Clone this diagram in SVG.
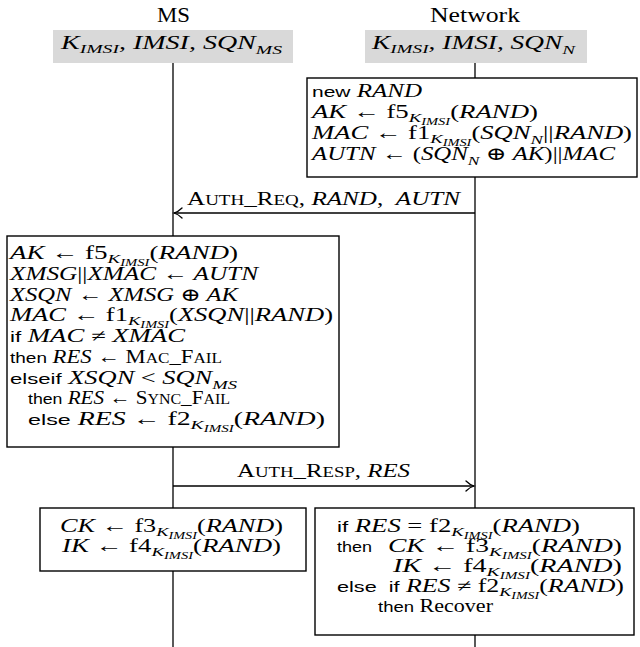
<svg xmlns="http://www.w3.org/2000/svg" width="640" height="647" viewBox="0 0 640 647">
<style>
text { font-family: "Liberation Serif", "DejaVu Serif", serif; font-size: 18.5px; fill: #000; }
.i { font-style: italic; }
.up { font-style: normal; }
.sf { font-family: "Liberation Sans", "DejaVu Sans", sans-serif; font-style: normal; font-size: 15.5px; }
.sc { font-style: normal; font-size: 14px; }
.sb { font-size: 13px; }
.ss { font-size: 10px; }
.hd { font-size: 22px; }
.box { fill: #fff; stroke: #000; stroke-width: 1.4; }
.gray { fill: #d9d9d9; stroke: none; }
.ll { stroke: #000; stroke-width: 1.3; fill: none; }
.msg { stroke: #000; stroke-width: 1.4; fill: none; marker-end: url(#ah); }
</style>
<defs>
<marker id="ah" viewBox="-10 -6 12 12" refX="0" refY="0" markerWidth="12" markerHeight="12" markerUnits="userSpaceOnUse" orient="auto"><path d="M-8,-5 C-5,-2 -2,-0.6 0,0 C-2,0.6 -5,2 -8,5" fill="none" stroke="#000" stroke-width="1.3" stroke-linecap="round"/></marker>
</defs>

<g id="connectors">
<line class="ll" x1="173" y1="63" x2="173" y2="236"/>
<line class="ll" x1="173" y1="447" x2="173" y2="508"/>
<line class="ll" x1="173" y1="571" x2="173" y2="647"/>
<line class="ll" x1="475" y1="63" x2="475" y2="78"/>
<line class="ll" x1="475" y1="177" x2="475" y2="508"/>
<line class="ll" x1="475" y1="635" x2="475" y2="647"/>
<line class="msg" x1="475" y1="213" x2="174" y2="213"/>
<text x="187" y="205" textLength="273" lengthAdjust="spacingAndGlyphs" xml:space="preserve">A<tspan class="sc">UTH</tspan>_R<tspan class="sc">EQ</tspan>, <tspan class="i">RAND</tspan>,  <tspan class="i">AUTN</tspan></text>
<line class="msg" x1="173" y1="486" x2="474" y2="486"/>
<text x="237" y="477" textLength="173" lengthAdjust="spacingAndGlyphs">A<tspan class="sc">UTH</tspan>_R<tspan class="sc">ESP</tspan>, <tspan class="i">RES</tspan></text>
</g>

<g id="ms-header">
<text class="hd" x="157" y="22" textLength="33" lengthAdjust="spacingAndGlyphs">MS</text>
<rect class="gray" x="53" y="30" width="240" height="33"/>
<text class="i" x="61" y="49" textLength="221" lengthAdjust="spacingAndGlyphs">K<tspan class="sb" dy="4">IMSI</tspan><tspan dy="-4">, IMSI, SQN</tspan><tspan class="sb" dy="5">MS</tspan></text>
</g>

<g id="network-header">
<text class="hd" x="430" y="22" textLength="90" lengthAdjust="spacingAndGlyphs">Network</text>
<rect class="gray" x="365" y="30" width="222" height="33"/>
<text class="i" x="372" y="49" textLength="203" lengthAdjust="spacingAndGlyphs">K<tspan class="sb" dy="4">IMSI</tspan><tspan dy="-4">, IMSI, SQN</tspan><tspan class="sb" dy="5">N</tspan></text>
</g>

<g id="network-compute">
<rect class="box" x="307" y="78" width="330" height="99"/>
<text class="i" x="312" y="97" textLength="110" lengthAdjust="spacingAndGlyphs"><tspan class="sf">new</tspan> RAND</text>
<text class="i" x="312" y="118" textLength="226" lengthAdjust="spacingAndGlyphs">AK <tspan class="up">← f5</tspan><tspan class="sb" dy="4">K</tspan><tspan class="ss" dy="2.5">IMSI</tspan><tspan class="up" dy="-6.5">(</tspan>RAND<tspan class="up">)</tspan></text>
<text class="i" x="312" y="139" textLength="320" lengthAdjust="spacingAndGlyphs">MAC <tspan class="up">← f1</tspan><tspan class="sb" dy="4">K</tspan><tspan class="ss" dy="2.5">IMSI</tspan><tspan class="up" dy="-6.5">(</tspan>SQN<tspan class="sb" dy="5">N</tspan><tspan class="up" dy="-5">||</tspan>RAND<tspan class="up">)</tspan></text>
<text class="i" x="312" y="160" textLength="303" lengthAdjust="spacingAndGlyphs">AUTN <tspan class="up">← (</tspan>SQN<tspan class="sb" dy="5">N</tspan><tspan class="up" dy="-5"> ⊕ </tspan>AK<tspan class="up">)||</tspan>MAC</text>
</g>

<g id="ms-verify">
<rect class="box" x="7" y="236" width="332" height="211"/>
<text class="i" x="10" y="259" textLength="228" lengthAdjust="spacingAndGlyphs">AK <tspan class="up">← f5</tspan><tspan class="sb" dy="4">K</tspan><tspan class="ss" dy="2.5">IMSI</tspan><tspan class="up" dy="-6.5">(</tspan>RAND<tspan class="up">)</tspan></text>
<text class="i" x="10" y="280" textLength="248" lengthAdjust="spacingAndGlyphs">XMSG<tspan class="up">||</tspan>XMAC <tspan class="up">←</tspan> AUTN</text>
<text class="i" x="10" y="300.5" textLength="228" lengthAdjust="spacingAndGlyphs">XSQN <tspan class="up">←</tspan> XMSG <tspan class="up">⊕</tspan> AK</text>
<text class="i" x="10" y="321" textLength="323" lengthAdjust="spacingAndGlyphs">MAC <tspan class="up">← f1</tspan><tspan class="sb" dy="4">K</tspan><tspan class="ss" dy="2.5">IMSI</tspan><tspan class="up" dy="-6.5">(</tspan>XSQN<tspan class="up">||</tspan>RAND<tspan class="up">)</tspan></text>
<text class="i" x="10" y="342" textLength="175" lengthAdjust="spacingAndGlyphs"><tspan class="sf">if</tspan> MAC <tspan class="up">≠</tspan> XMAC</text>
<text class="i" x="10" y="363" textLength="212" lengthAdjust="spacingAndGlyphs"><tspan class="sf">then</tspan> RES <tspan class="up">←</tspan> <tspan class="up">M</tspan><tspan class="sc">AC</tspan><tspan class="up">_F</tspan><tspan class="sc">AIL</tspan></text>
<text class="i" x="10" y="384" textLength="227" lengthAdjust="spacingAndGlyphs"><tspan class="sf">elseif</tspan> XSQN <tspan class="up">&lt;</tspan> SQN<tspan class="sb" dy="5">MS</tspan></text>
<text class="i" x="28" y="404" textLength="202" lengthAdjust="spacingAndGlyphs"><tspan class="sf">then</tspan> RES <tspan class="up">←</tspan> <tspan class="up">S</tspan><tspan class="sc">YNC</tspan><tspan class="up">_F</tspan><tspan class="sc">AIL</tspan></text>
<text class="i" x="28" y="425" textLength="297" lengthAdjust="spacingAndGlyphs"><tspan class="sf">else</tspan> RES <tspan class="up">← f2</tspan><tspan class="sb" dy="4">K</tspan><tspan class="ss" dy="2.5">IMSI</tspan><tspan class="up" dy="-6.5">(</tspan>RAND<tspan class="up">)</tspan></text>
</g>

<g id="ms-keys">
<rect class="box" x="40" y="508" width="266" height="63"/>
<text class="i" x="60" y="532" textLength="223" lengthAdjust="spacingAndGlyphs">CK <tspan class="up">← f3</tspan><tspan class="sb" dy="4">K</tspan><tspan class="ss" dy="2.5">IMSI</tspan><tspan class="up" dy="-6.5">(</tspan>RAND<tspan class="up">)</tspan></text>
<text class="i" x="62" y="552" textLength="219" lengthAdjust="spacingAndGlyphs">IK <tspan class="up">← f4</tspan><tspan class="sb" dy="4">K</tspan><tspan class="ss" dy="2.5">IMSI</tspan><tspan class="up" dy="-6.5">(</tspan>RAND<tspan class="up">)</tspan></text>
</g>

<g id="network-check">
<rect class="box" x="315" y="508" width="319" height="127"/>
<text class="i" x="337" y="532" textLength="243" lengthAdjust="spacingAndGlyphs"><tspan class="sf">if</tspan> RES <tspan class="up">= f2</tspan><tspan class="sb" dy="4">K</tspan><tspan class="ss" dy="2.5">IMSI</tspan><tspan class="up" dy="-6.5">(</tspan>RAND<tspan class="up">)</tspan></text>
<text class="sf" x="337" y="552" textLength="35" lengthAdjust="spacingAndGlyphs">then</text>
<text class="i" x="388" y="552" textLength="234" lengthAdjust="spacingAndGlyphs">CK <tspan class="up">← f3</tspan><tspan class="sb" dy="4">K</tspan><tspan class="ss" dy="2.5">IMSI</tspan><tspan class="up" dy="-6.5">(</tspan>RAND<tspan class="up">)</tspan></text>
<text class="i" x="393" y="572" textLength="229" lengthAdjust="spacingAndGlyphs">IK <tspan class="up">← f4</tspan><tspan class="sb" dy="4">K</tspan><tspan class="ss" dy="2.5">IMSI</tspan><tspan class="up" dy="-6.5">(</tspan>RAND<tspan class="up">)</tspan></text>
<text class="i" x="337" y="592" textLength="287" lengthAdjust="spacingAndGlyphs" xml:space="preserve"><tspan class="sf">else  if</tspan> RES <tspan class="up">≠ f2</tspan><tspan class="sb" dy="4">K</tspan><tspan class="ss" dy="2.5">IMSI</tspan><tspan class="up" dy="-6.5">(</tspan>RAND<tspan class="up">)</tspan></text>
<text class="up" x="378" y="612" textLength="115" lengthAdjust="spacingAndGlyphs"><tspan class="sf">then</tspan> Recover</text>
</g>
</svg>
